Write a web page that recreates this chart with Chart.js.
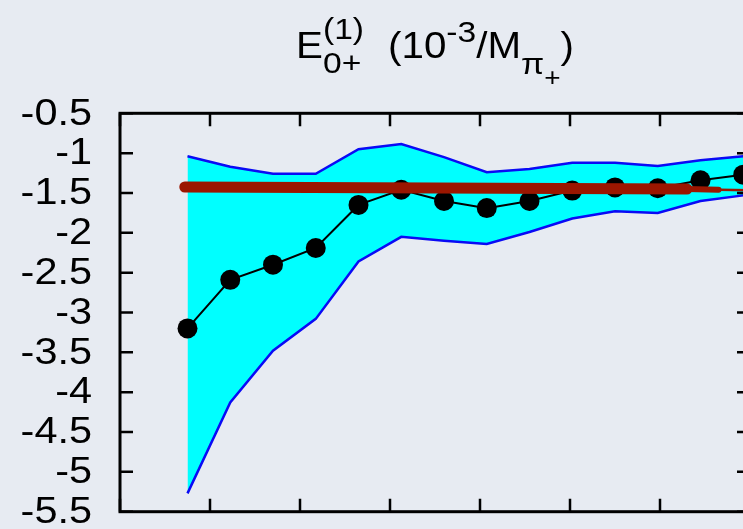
<!DOCTYPE html>
<html>
<head>
<meta charset="utf-8">
<script src="https://cdn.jsdelivr.net/npm/chart.js@4/dist/chart.umd.min.js"></script>
<style>
    html, body { margin: 0; padding: 0; overflow: hidden; background: #e7ebf2; }
    #chart { position: absolute; left: 0; top: 0; }
</style>
</head>
<body>
<canvas id="chart" width="760" height="529"></canvas>
<script>
// --- data ---
const xPositions    = [0.75, 1.225, 1.70, 2.175, 2.65, 3.125, 3.60, 4.075, 4.55, 5.025, 5.50, 5.975, 6.45, 6.925];
const centralValues = [-3.20, -2.59, -2.40, -2.19, -1.65, -1.46, -1.60, -1.69, -1.60, -1.47, -1.43, -1.44, -1.34, -1.27];
const upperBand     = [-1.04, -1.17, -1.26, -1.26, -0.95, -0.885, -1.05, -1.24, -1.20, -1.12, -1.12, -1.16, -1.09, -1.04];
const lowerBand     = [-5.27, -4.13, -3.48, -3.08, -2.36, -2.05, -2.10, -2.14, -1.99, -1.82, -1.73, -1.75, -1.60, -1.53];
const fitX          = [0.72, 6.3, 6.65, 7.0];
const fitY          = [-1.425, -1.45, -1.46, -1.465];
const yTickValues   = [-5.5, -5, -4.5, -4, -3.5, -3, -2.5, -2, -1.5, -1, -0.5];
const xTickValues   = [0, 1, 2, 3, 4, 5, 6, 7];

const FONT = '"Liberation Sans", Arial, Helvetica, sans-serif';
const STRETCH = 1.12;   // the original lettering is a bit wider than Arial

const toPoints = (xs, ys) => xs.map((x, i) => ({ x: x, y: ys[i] }));

// --- title with sub/superscripts, drawn as canvas text ---
const richTitle = {
    id: 'richTitle',
    afterDraw(chart) {
        const ctx = chart.ctx;
        const area = chart.chartArea;
        const base = 58;
        const parts = [
            { t: 'E', s: 36, dy: 0 },
            { t: '(1)', s: 30, dy: -19, sub: '0+', subDy: 15 },
            { gap: 24 },
            { t: '(10', s: 36, dy: 0 },
            { t: '-3', s: 30, dy: -16 },
            { t: '/M', s: 36, dy: 0 },
            { t: 'π', s: 30, dy: 16 },
            { t: '+', s: 25, dy: 28 },
            { t: ')', s: 36, dy: 0 }
        ];
        const measure = (t, s) => { ctx.font = s + 'px ' + FONT; return ctx.measureText(t).width; };

        let total = 0;
        parts.forEach(p => {
            if (p.gap) { total += p.gap / STRETCH; return; }
            p.w = measure(p.t, p.s);
            if (p.sub) p.w = Math.max(p.w, measure(p.sub, p.s));
            total += p.w;
        });

        ctx.save();
        ctx.fillStyle = '#000';
        ctx.textBaseline = 'alphabetic';
        ctx.textAlign = 'left';
        ctx.translate((area.left + area.right) / 2 - total * STRETCH / 2, base);
        ctx.scale(STRETCH, 1);
        let x = 0;
        parts.forEach(p => {
            if (p.gap) { x += p.gap / STRETCH; return; }
            ctx.font = p.s + 'px ' + FONT;
            ctx.fillText(p.t, x, p.dy);
            if (p.sub) ctx.fillText(p.sub, x, p.subDy);
            x += p.w;
        });
        ctx.restore();
    }
};

// --- closed frame, inward tick marks and y labels ---
const frameTicks = {
    id: 'frameTicks',
    afterDraw(chart) {
        const ctx = chart.ctx;
        const a = chart.chartArea;
        const xs = chart.scales.x, ys = chart.scales.y;
        const len = 13;
        ctx.save();
        ctx.strokeStyle = '#000';
        ctx.lineWidth = 2.5;
        ctx.beginPath();
        yTickValues.forEach(v => {
            const py = ys.getPixelForValue(v);
            ctx.moveTo(a.left, py); ctx.lineTo(a.left + len, py);
            ctx.moveTo(a.right, py); ctx.lineTo(a.right - len, py);
        });
        xTickValues.forEach(v => {
            const px = xs.getPixelForValue(v);
            ctx.moveTo(px, a.top); ctx.lineTo(px, a.top + len);
            ctx.moveTo(px, a.bottom); ctx.lineTo(px, a.bottom - len);
        });
        ctx.stroke();
        ctx.lineWidth = 3;
        ctx.strokeRect(a.left, a.top, a.right - a.left, a.bottom - a.top);

        // y tick labels
        ctx.fillStyle = '#000';
        ctx.font = '37px ' + FONT;
        ctx.textAlign = 'right';
        ctx.textBaseline = 'middle';
        yTickValues.forEach(v => {
            ctx.save();
            ctx.translate(a.left - 28, ys.getPixelForValue(v) + 1);
            ctx.scale(STRETCH, 1);
            ctx.fillText(String(v), 0, 0);
            ctx.restore();
        });
        ctx.restore();
    }
};

const fitWidths = [11, 6, 2.5];

new Chart(document.getElementById('chart'), {
    type: 'line',
    data: {
        datasets: [
            {
                label: 'fit',
                data: toPoints(fitX, fitY),
                borderColor: '#9b1600',
                borderWidth: 11,
                borderCapStyle: 'round',
                pointRadius: 0,
                segment: { borderWidth: c => fitWidths[c.p0DataIndex] },
                order: 0
            },
            {
                label: 'E0+',
                data: toPoints(xPositions, centralValues),
                borderColor: '#000',
                borderWidth: 2,
                pointRadius: 10,
                pointBackgroundColor: '#000',
                pointBorderWidth: 0,
                order: 1
            },
            {
                label: 'upper',
                data: toPoints(xPositions, upperBand),
                borderColor: '#0a0af5',
                borderWidth: 2.5,
                backgroundColor: '#00ffff',
                fill: '+1',
                pointRadius: 0,
                order: 3
            },
            {
                label: 'lower',
                data: toPoints(xPositions, lowerBand),
                borderColor: '#0a0af5',
                borderWidth: 2.5,
                pointRadius: 0,
                order: 2
            }
        ]
    },
    options: {
        responsive: false,
        animation: false,
        layout: { padding: { top: 113.3, right: 10, bottom: 17.3, left: 120 } },
        plugins: { legend: { display: false }, tooltip: { enabled: false }, title: { display: false } },
        scales: {
            x: { type: 'linear', min: 0, max: 7, display: false },
            y: { min: -5.5, max: -0.5, display: false }
        }
    },
    plugins: [richTitle, frameTicks]
});
</script>
</body>
</html>
